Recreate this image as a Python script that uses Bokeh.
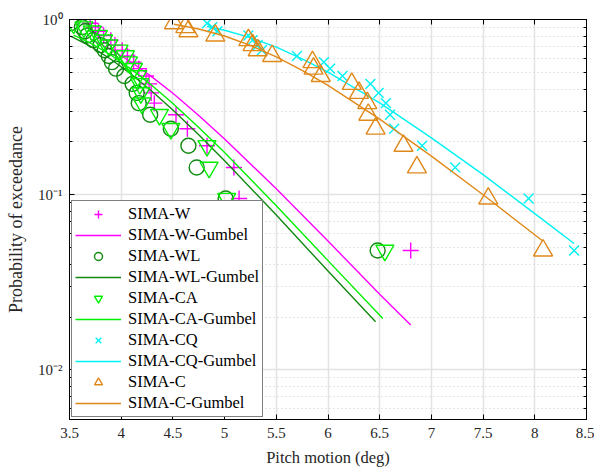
from bokeh.plotting import figure
from bokeh.models import (LinearAxis, LogAxis, FixedTicker, LogTicker, NumeralTickFormatter,
                          CustomJSTickFormatter, Legend, LegendItem, Range1d)
from bokeh.embed import file_html
from bokeh.resources import INLINE

# Exceedance probability of the 20 ranked pitch maxima (rank / 21), largest value first
prob = [0.952, 0.905, 0.857, 0.810, 0.762, 0.714, 0.667, 0.619, 0.571, 0.524,
        0.476, 0.429, 0.381, 0.333, 0.286, 0.238, 0.190, 0.143, 0.095, 0.048]

# Sorted pitch maxima (deg) for each simulation case
w_pitch = [3.70, 3.75, 3.78, 3.83, 3.90, 3.94, 4.01, 4.06, 4.12, 4.17,
           4.24, 4.27, 4.29, 4.32, 4.53, 4.64, 4.83, 5.09, 5.14, 6.80]
wl_pitch = [3.51, 3.62, 3.65, 3.67, 3.73, 3.80, 3.84, 3.88, 3.91, 3.95,
            4.03, 4.11, 4.15, 4.17, 4.28, 4.48, 4.65, 4.73, 5.01, 6.48]
ca_pitch = [3.54, 3.64, 3.72, 3.78, 3.83, 3.88, 3.98, 4.04, 4.07, 4.12,
            4.16, 4.18, 4.19, 4.20, 4.37, 4.48, 4.83, 4.85, 5.02, 6.55]
cq_pitch = [4.83, 4.88, 4.93, 5.23, 5.27, 5.32, 5.36, 5.70, 5.96, 6.02,
            6.14, 6.41, 6.49, 6.56, 6.60, 6.64, 6.91, 7.23, 7.94, 8.38]
c_pitch = [4.51, 4.62, 4.65, 4.91, 5.23, 5.27, 5.32, 5.46, 5.85, 5.86,
           5.93, 6.23, 6.30, 6.38, 6.39, 6.46, 6.73, 6.86, 7.55, 8.08]

# Fitted Gumbel exceedance curves
w_fit_x = [3.70, 3.90, 4.10, 4.30, 4.50, 4.75, 5.00, 5.50, 6.00, 6.50, 6.80]
w_fit_p = [0.775, 0.674, 0.570, 0.469, 0.379, 0.283, 0.208, 0.108, 0.0543, 0.0270, 0.0180]
wl_fit_x = [3.51, 3.70, 3.90, 4.10, 4.30, 4.50, 4.75, 5.00, 5.50, 6.00, 6.46]
wl_fit_p = [0.803, 0.704, 0.593, 0.485, 0.388, 0.304, 0.220, 0.156, 0.0766, 0.0366, 0.0188]
ca_fit_x = [3.54, 3.70, 3.90, 4.10, 4.30, 4.50, 4.75, 5.00, 5.50, 6.00, 6.53]
ca_fit_p = [0.815, 0.735, 0.627, 0.519, 0.419, 0.331, 0.242, 0.174, 0.0864, 0.0420, 0.0196]
cq_fit_x = [4.83, 5.00, 5.25, 5.50, 5.75, 6.00, 6.50, 7.00, 7.50, 8.00, 8.38]
cq_fit_p = [0.912, 0.868, 0.788, 0.695, 0.596, 0.500, 0.334, 0.211, 0.130, 0.0779, 0.0526]
c_fit_x = [4.51, 4.75, 5.00, 5.25, 5.50, 5.75, 6.00, 6.50, 7.00, 7.50, 8.08]
c_fit_p = [0.939, 0.883, 0.805, 0.711, 0.611, 0.512, 0.421, 0.270, 0.166, 0.0999, 0.0542]

x_ticks = [3.5, 4, 4.5, 5, 5.5, 6, 6.5, 7, 7.5, 8, 8.5]

FONT = "Liberation Serif"

p = figure(width=594, height=469, x_range=Range1d(3.5, 8.5), y_range=Range1d(0.0052, 1),
           y_axis_type="log", output_backend="svg", toolbar_location=None,
           min_border_left=69, min_border_right=8, min_border_top=19, min_border_bottom=49)
p.outline_line_color = "black"
p.outline_line_width = 1
p.background_fill_color = "white"
p.border_fill_color = "white"

# grids: solid light majors, dotted log minors
p.xgrid.ticker = FixedTicker(ticks=x_ticks)
p.xgrid.grid_line_color = "#e3e3e3"
p.xgrid.grid_line_width = 1.5
p.ygrid.grid_line_color = "#e3e3e3"
p.ygrid.grid_line_width = 1.5
p.ygrid.minor_grid_line_color = "#cfcfcf"
p.ygrid.minor_grid_line_dash = "1 3"
p.ygrid.minor_grid_line_width = 1

sup = CustomJSTickFormatter(code="""
const e = Math.round(Math.log10(tick));
const m = {"-": "\u207b", "0": "\u2070", "1": "\u00b9", "2": "\u00b2", "3": "\u00b3"};
return "10" + String(e).split("").map(c => m[c]).join("");
""")


def style_axis(ax):
    ax.axis_line_color = "black"
    ax.axis_line_width = 1
    ax.major_tick_line_color = "black"
    ax.major_tick_in = 5
    ax.major_tick_out = 0
    ax.minor_tick_in = 3
    ax.minor_tick_out = 0
    ax.major_label_text_font = FONT
    ax.major_label_text_color = "#262626"


xa = p.xaxis[0]
style_axis(xa)
xa.ticker = FixedTicker(ticks=x_ticks)
xa.formatter = NumeralTickFormatter(format="0.[0]")
xa.minor_tick_line_color = None
xa.major_label_text_font_size = "15px"
xa.major_label_standoff = 8
xa.axis_label = "Pitch motion (deg)"
xa.axis_label_text_font = FONT
xa.axis_label_text_font_style = "normal"
xa.axis_label_text_font_size = "16.5px"
xa.axis_label_text_color = "#262626"
xa.axis_label_standoff = 7

ya = p.yaxis[0]
style_axis(ya)
ya.ticker = LogTicker(num_minor_ticks=10)
ya.formatter = sup
ya.major_label_text_font_size = "15px"
ya.major_label_standoff = 7
ya.axis_label = "Probability of exceedance"
ya.axis_label_text_font = FONT
ya.axis_label_text_font_style = "normal"
ya.axis_label_text_font_size = "18px"
ya.axis_label_text_color = "#262626"
ya.axis_label_standoff = 9

# box axes on top and right: ticks only
top = LinearAxis(ticker=FixedTicker(ticks=x_ticks), major_label_text_color=None,
                 major_label_text_font_size="2px", major_label_standoff=0)
style_axis(top)
top.major_label_text_color = None
top.minor_tick_line_color = None
p.add_layout(top, "above")

right = LogAxis(ticker=LogTicker(num_minor_ticks=10), major_label_text_color=None,
                major_label_text_font_size="2px", major_label_standoff=0)
style_axis(right)
right.major_label_text_color = None
p.add_layout(right, "right")

MAG = "#ff00ff"
DKG = "#108a10"
LTG = "#00f000"
CYN = "#00f2f2"
ORG = "#e0891b"
LW = 1.4

r_w = p.scatter(w_pitch, prob, marker="cross", size=16, line_color=MAG, line_width=LW)
r_wf = p.line(w_fit_x, w_fit_p, line_color=MAG, line_width=LW)
r_wl = p.scatter(wl_pitch, prob, marker="circle", size=15, line_color=DKG, fill_alpha=0, line_width=LW)
r_wlf = p.line(wl_fit_x, wl_fit_p, line_color=DKG, line_width=LW)
r_ca = p.scatter(ca_pitch, prob, marker="inverted_triangle", size=18, line_color=LTG, fill_alpha=0, line_width=LW)
r_caf = p.line(ca_fit_x, ca_fit_p, line_color=LTG, line_width=LW)
r_cq = p.scatter(cq_pitch, prob, marker="x", size=14, line_color=CYN, line_width=LW)
r_cqf = p.line(cq_fit_x, cq_fit_p, line_color=CYN, line_width=LW)
r_c = p.scatter(c_pitch, prob, marker="triangle", size=19, line_color=ORG, fill_alpha=0, line_width=LW)
r_cf = p.line(c_fit_x, c_fit_p, line_color=ORG, line_width=LW)

items = [
    LegendItem(label="SIMA-W", renderers=[r_w]),
    LegendItem(label="SIMA-W-Gumbel", renderers=[r_wf]),
    LegendItem(label="SIMA-WL", renderers=[r_wl]),
    LegendItem(label="SIMA-WL-Gumbel", renderers=[r_wlf]),
    LegendItem(label="SIMA-CA", renderers=[r_ca]),
    LegendItem(label="SIMA-CA-Gumbel", renderers=[r_caf]),
    LegendItem(label="SIMA-CQ", renderers=[r_cq]),
    LegendItem(label="SIMA-CQ-Gumbel", renderers=[r_cqf]),
    LegendItem(label="SIMA-C", renderers=[r_c]),
    LegendItem(label="SIMA-C-Gumbel", renderers=[r_cf]),
]
legend = Legend(items=items, location="bottom_left")
legend.margin = 2
legend.padding = 3
legend.spacing = 1
legend.glyph_width = 46
legend.glyph_height = 20
legend.label_height = 20
legend.label_standoff = 7
legend.label_text_font = FONT
legend.label_text_font_size = "16.5px"
legend.label_text_color = "black"
legend.border_line_color = "black"
legend.border_line_width = 1
legend.background_fill_color = "white"
legend.background_fill_alpha = 1
p.add_layout(legend)

open("out.html", "w").write(file_html(p, INLINE))
